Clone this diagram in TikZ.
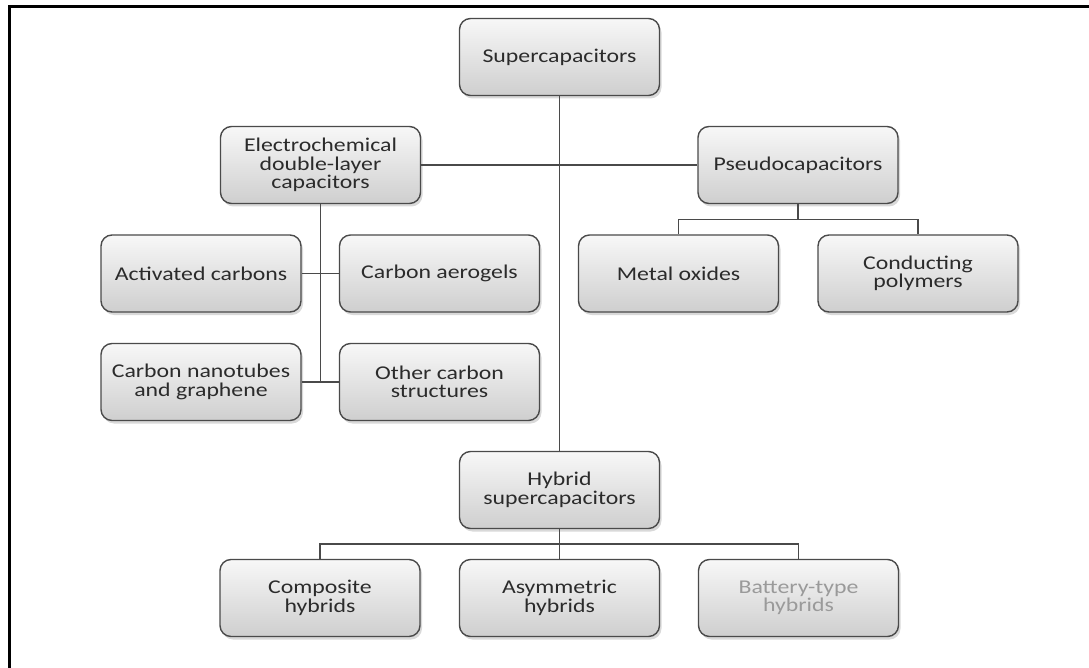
\documentclass[tikz,border=0pt]{standalone}
\usepackage{fontspec}
\setmainfont{Carlito}[FakeStretch=1.22]
\usepackage{xcolor}
\usetikzlibrary{positioning,calc,shadows}

\definecolor{boxline}{HTML}{4A4A4A}
\definecolor{boxtext}{HTML}{2B2B2B}
\definecolor{fadetext}{HTML}{9A9A9A}

\tikzset{
  capbox/.style={draw=boxline, line width=1.4pt, rounded corners=11pt,
    top color=gray!6, bottom color=gray!38,
    drop shadow={shadow xshift=2pt, shadow yshift=-3pt, opacity=.3, fill=gray},
    minimum width=200pt, minimum height=77pt, inner sep=0pt,
    align=center, text=boxtext, font=\fontsize{19.5}{18.5}\selectfont},
  link/.style={draw=boxline, line width=1.2pt}
}

\begin{document}
\begin{tikzpicture}[x=1pt, y=-1pt]
  \useasboundingbox (0,0) rectangle (1089,668);
  % Frame
  \draw[line width=3pt] (9,668) -- (9,7) -- (1089,7);

  % Top level
  \node[capbox] (sup) at (559.5,57) {Supercapacitors};
  \node[capbox] (edl) at (320.5,165) {Electrochemical\\double-layer\\capacitors};
  \node[capbox] (pse) at (798,165) {Pseudocapacitors};
  \node[capbox] (hyb) at (559.5,490) {Hybrid\\supercapacitors};

  % Double-layer branch
  \node[capbox] (act) at (201,273.5) {Activated carbons};
  \node[capbox] (aer) at (439.5,273.5) {Carbon aerogels};
  \node[capbox] (nan) at (201,382) {Carbon nanotubes\\and graphene};
  \node[capbox] (oth) at (439.5,382) {Other carbon\\structures};

  % Pseudocapacitor branch
  \node[capbox] (met) at (678.5,273.5) {Metal oxides};
  \node[capbox] (con) at (918,273.5) {Conducting\\polymers};

  % Hybrid branch
  \node[capbox] (com) at (320,598) {Composite\\hybrids};
  \node[capbox] (asy) at (559.5,598) {Asymmetric\\hybrids};
  \node[capbox, text=fadetext] (bat) at (798.5,598) {Battery-type\\hybrids};

  % Connectors
  \draw[link] (sup.south) -- (hyb.north);
  \draw[link] (edl.east) -- (pse.west);
  \draw[link] (edl.south) -- (edl.south |- nan.east);
  \draw[link] (act.east) -- (aer.west);
  \draw[link] (nan.east) -- (oth.west);
  \draw[link] (pse.south) -- ++(0,15) coordinate (pj);
  \draw[link] (met.north) |- (pj) -| (con.north);
  \draw[link] (hyb.south) -- (asy.north);
  \coordinate (hj) at ($(hyb.south)!.5!(asy.north)$);
  \draw[link] (com.north) |- (hj) -| (bat.north);
\end{tikzpicture}
\end{document}
